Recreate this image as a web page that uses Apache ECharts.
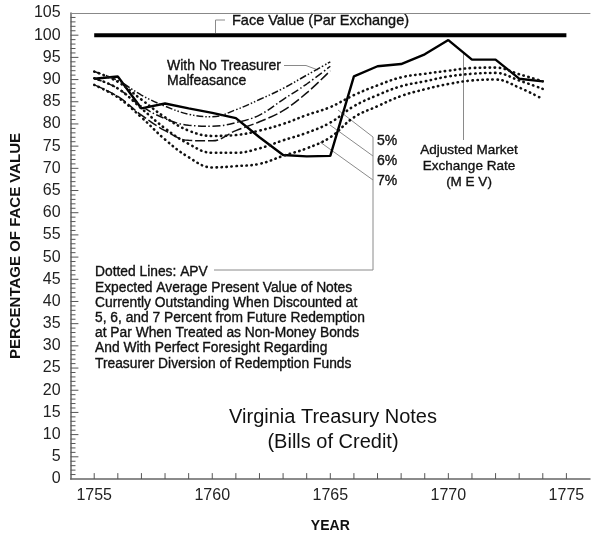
<!DOCTYPE html>
<html>
<head>
<meta charset="utf-8">
<title>Virginia Treasury Notes</title>
<script src="https://cdn.jsdelivr.net/npm/echarts@6.0.0/dist/echarts.min.js"></script>
<style>
  html, body { margin: 0; padding: 0; background: #fff; }
  #main { width: 593px; height: 538px; }
</style>
</head>
<body>
<div id="main"></div>
<script>
// data
var years = [1755, 1756, 1757, 1758, 1759, 1760, 1761, 1762, 1763, 1764,
             1765, 1766, 1767, 1768, 1769, 1770, 1771, 1772, 1773, 1774];
// adjusted market exchange rate (solid)
var mev  = [90.2, 90.7, 83.5, 84.6, 83.5, 82.5, 81.3, 77.0, 73.0, 72.7,
            72.8, 90.7, 93.0, 93.5, 95.7, 98.9, 94.5, 94.5, 90.2, 89.6];
// APV dotted lines at 5, 6, 7 percent
var apv5 = [91.8, 89.5, 85.5, 81.5, 78.5, 77.3, 77.5, 78.5, 80.0, 82.0,
            83.8, 86.5, 88.7, 90.5, 91.3, 92.0, 92.6, 92.7, 91.2, 89.6];
var apv6 = [90.3, 88.0, 83.5, 79.0, 75.5, 73.5, 73.5, 74.5, 76.3, 78.0,
            80.3, 84.0, 86.5, 88.5, 89.6, 90.7, 91.3, 91.5, 89.8, 87.9];
var apv7 = [88.8, 86.0, 81.5, 76.5, 72.5, 70.2, 70.5, 71.0, 72.8, 74.5,
            77.0, 81.5, 84.0, 86.3, 87.8, 89.0, 89.8, 90.0, 88.2, 85.6];
// "with no treasurer malfeasance" dash-dot lines
var noMalYears = [1755, 1756, 1757, 1758, 1759, 1760, 1761, 1762, 1763, 1764, 1765];
var noMal5 = [91.8, 89.8, 86.5, 84.0, 82.2, 81.6, 83.2, 85.5, 88.0, 91.0, 94.0];
var noMal6 = [90.3, 88.0, 84.0, 81.2, 79.7, 79.5, 80.3, 82.0, 85.5, 89.0, 93.0];
var noMal7 = [88.8, 86.2, 82.0, 78.5, 76.3, 76.2, 78.5, 80.5, 83.0, 87.0, 92.0];
// face value (par exchange)
var faceYears = [1755, 1775];
var faceValue = [100, 100];

// axis ranges and tick marks: one per year on x, one per unit on y
var xMin = 1754, xMax = 1776;
var yMin = 0, yMax = 105;
var xTickYears = [];
for (var t = 1755; t <= 1775; t++) { xTickYears.push(t); }
var yTickValues = [];
for (var u = 1; u <= 104; u++) { yTickValues.push(u); }

// grid size in pixels
var gridLeft = 63, gridTop = 13, gridW = 531, gridH = 474;
var pxPerYear = gridW / (xMax - xMin);
var pxPerUnit = gridH / (yMax - yMin);

function pairs(xs, ys) {
    return xs.map(function (x, i) { return [x, ys[i]]; });
}

// tick segments broken by empty points, so one line series draws the whole comb
var yTickData = [];
yTickValues.forEach(function (v) {
    var len = v % 5 === 0 ? 8 : 5;
    yTickData.push([xMin, v], [xMin + len / pxPerYear, v], [xMin, '-']);
});
var xTickData = [];
xTickYears.forEach(function (y) {
    xTickData.push([y, yMin], [y, yMin + 6 / pxPerUnit], [y, '-']);
});

var font = 'Liberation Sans, Arial, Helvetica, sans-serif';
var ink = '#111';
var leader = '#8a8a8a';
var tickColor = '#555';

function txt(x, y, s, size, align) {
    return {
        type: 'text', x: x, y: y, silent: true,
        style: {
            text: s, fill: ink, font: size + 'px ' + font,
            textAlign: align || 'left', textVerticalAlign: 'middle',
            stroke: ink, lineWidth: 0.35
        }
    };
}
function poly(points) {
    return {
        type: 'polyline', silent: true,
        shape: { points: points },
        style: { stroke: leader, lineWidth: 1, fill: null }
    };
}

var myChart = echarts.init(document.getElementById('main'));

var dotted = { width: 2.6, color: ink, type: [0.4, 4.6], cap: 'round' };

var option = {
    animation: false,
    grid: { left: gridLeft, top: gridTop, width: gridW, height: gridH },
    xAxis: [
        {
            type: 'value', min: xMin, max: xMax, interval: 1,
            name: 'YEAR', nameLocation: 'middle', nameGap: 40,
            nameTextStyle: { fontFamily: font, fontSize: 14, color: ink, fontWeight: 'bold' },
            axisLine: { show: true, lineStyle: { color: '#666', width: 1.5 } },
            axisTick: { show: false },
            axisLabel: {
                margin: 9, fontFamily: font, fontSize: 16, color: '#222',
                formatter: function (v) { return v % 5 === 0 ? String(v) : ''; }
            },
            splitLine: { show: false }
        },
        {
            // top frame line
            type: 'value', position: 'top', min: xMin, max: xMax,
            axisLine: { show: true, lineStyle: { color: '#888', width: 1 } },
            axisTick: { show: false }, axisLabel: { show: false }, splitLine: { show: false }
        }
    ],
    yAxis: {
        type: 'value', min: yMin, max: yMax, interval: 5,
        name: 'PERCENTAGE OF FACE VALUE', nameLocation: 'middle', nameGap: 36,
        nameTextStyle: { fontFamily: font, fontSize: 15, color: ink, fontWeight: 'bold' },
        axisLine: { show: true, lineStyle: { color: '#666', width: 1.5 } },
        axisTick: { show: false },
        axisLabel: { margin: 10, fontFamily: font, fontSize: 16, color: '#222' },
        splitLine: { show: false }
    },
    series: [
        {
            name: 'yTicks', type: 'line', symbol: 'none', silent: true, clip: false,
            connectNulls: false, data: yTickData,
            lineStyle: { width: 1, color: tickColor }
        },
        {
            name: 'xTicks', type: 'line', symbol: 'none', silent: true, clip: false,
            connectNulls: false, data: xTickData,
            lineStyle: { width: 1, color: tickColor }
        },
        {
            name: 'Face Value', type: 'line', symbol: 'none',
            data: pairs(faceYears, faceValue),
            lineStyle: { width: 4, color: '#000' }
        },
        {
            name: 'MEV', type: 'line', symbol: 'none',
            data: pairs(years, mev),
            lineStyle: { width: 2.4, color: '#000' }
        },
        { name: 'APV 5%', type: 'line', symbol: 'none', smooth: 0.4, data: pairs(years, apv5), lineStyle: dotted },
        { name: 'APV 6%', type: 'line', symbol: 'none', smooth: 0.4, data: pairs(years, apv6), lineStyle: dotted },
        { name: 'APV 7%', type: 'line', symbol: 'none', smooth: 0.4, data: pairs(years, apv7), lineStyle: dotted },
        {
            name: 'No Malfeasance 5%', type: 'line', symbol: 'none', smooth: 0.4,
            data: pairs(noMalYears, noMal5),
            lineStyle: { width: 1.5, color: ink, type: [7, 2, 1.5, 2, 1.5, 2] }
        },
        {
            name: 'No Malfeasance 6%', type: 'line', symbol: 'none', smooth: 0.4,
            data: pairs(noMalYears, noMal6),
            lineStyle: { width: 1.5, color: ink, type: [8, 2.5, 1.5, 2.5] }
        },
        {
            name: 'No Malfeasance 7%', type: 'line', symbol: 'none', smooth: 0.4,
            data: pairs(noMalYears, noMal7),
            lineStyle: { width: 1.5, color: ink, type: [10, 3] }
        }
    ],
    graphic: [
        // face value label
        poly([[225, 20], [215.5, 20], [215.5, 33]]),
        txt(232, 21, 'Face Value (Par Exchange)', 14.5),
        // no malfeasance label
        txt(167, 66, 'With No Treasurer', 14),
        txt(167, 81, 'Malfeasance', 14),
        poly([[284, 65.5], [306, 65.5], [318, 70]]),
        // percent labels with leaders
        poly([[338, 110], [373, 137]]),
        poly([[330, 125], [373, 156]]),
        poly([[320, 142], [373, 180]]),
        poly([[373, 137], [373, 270], [214, 270]]),
        txt(377, 141, '5%', 14),
        txt(377, 161, '6%', 14),
        txt(377, 181, '7%', 14),
        // MEV label
        poly([[463.5, 53], [463.5, 140]]),
        txt(469, 150, 'Adjusted Market', 13.5, 'center'),
        txt(469, 166, 'Exchange Rate', 13.5, 'center'),
        txt(469, 182, '(M E V)', 13.5, 'center'),
        // APV description
        txt(95, 272, 'Dotted Lines: APV', 13.8),
        txt(95, 288, 'Expected Average Present Value of Notes', 13.8),
        txt(95, 303, 'Currently Outstanding When Discounted at', 13.8),
        txt(95, 318, '5, 6, and 7 Percent from Future Redemption', 13.8),
        txt(95, 333, 'at Par When Treated as Non-Money Bonds', 13.8),
        txt(95, 348, 'And With Perfect Foresight Regarding', 13.8),
        txt(95, 364, 'Treasurer Diversion of Redemption Funds', 13.8),
        // title
        {
            type: 'text', x: 333, y: 417, silent: true,
            style: { text: 'Virginia Treasury Notes', fill: ink, font: '20px ' + font,
                     textAlign: 'center', textVerticalAlign: 'middle' }
        },
        {
            type: 'text', x: 333, y: 442, silent: true,
            style: { text: '(Bills of Credit)', fill: ink, font: '20px ' + font,
                     textAlign: 'center', textVerticalAlign: 'middle' }
        }
    ]
};

myChart.setOption(option);
</script>
</body>
</html>
